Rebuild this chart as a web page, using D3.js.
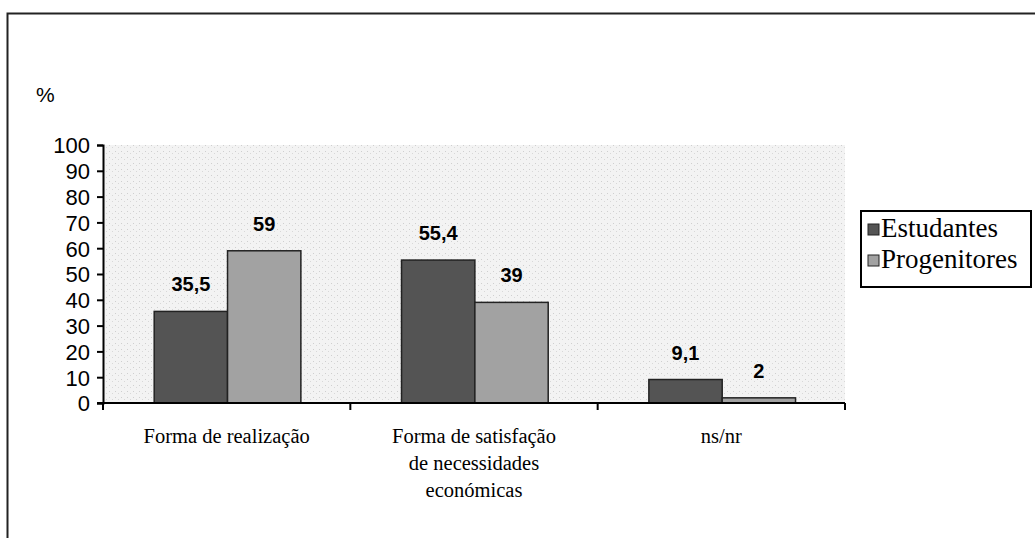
<!DOCTYPE html>
<meta charset="utf-8">
<style>
body { margin: 0; background: #fff; }
svg text { fill: #000; }
.axis-y text { font-family: "Liberation Sans", Arial, sans-serif; font-size: 22px; }
.val { font-family: "Liberation Sans", Arial, sans-serif; font-size: 20px; font-weight: bold; }
.cat { font-family: "Liberation Serif", "Times New Roman", serif; font-size: 20.5px; }
.leg { font-family: "Liberation Serif", "Times New Roman", serif; font-size: 27px; }
</style>
<svg width="1035" height="538"></svg>
<script src="https://cdn.jsdelivr.net/npm/d3@7"></script>
<script>

var categories = [["Forma de realização"], ["Forma de satisfação", "de necessidades", "económicas"], ["ns/nr"]]
var catKeys = ["real", "satis", "nsnr"]
var series = ["Estudantes", "Progenitores"]
var estudantes = [35.5, 55.4, 9.1]
var progenitores = [59, 39, 2]
var labelsEst = ["35,5", "55,4", "9,1"]
var labelsProg = ["59", "39", "2"]
var yTicks = [0, 10, 20, 30, 40, 50, 60, 70, 80, 90, 100]

var colors = { Estudantes: "#545454", Progenitores: "#a2a2a2" }

var svg = d3.select("svg")

// outer frame (only top and left visible)
svg.append("path")
  .attr("d", "M7.5,538 V13.5 H1035")
  .attr("fill", "none")
  .attr("stroke", "#222")
  .attr("stroke-width", 2)

var pLeft = 103, pRight = 845, pTop = 145, pBottom = 403

var x = d3.scaleBand().domain(catKeys).range([pLeft, pRight]).paddingInner(0).paddingOuter(0)
var bw = x.bandwidth()
var inner = d3.scaleBand().domain(series).range([0.207 * bw, 0.8 * bw]).padding(0)
var y = d3.scaleLinear().domain([0, 100]).range([pBottom, pTop])

// light stippled plot background
var defs = svg.append("defs")
var pat = defs.append("pattern").attr("id", "stip").attr("width", 6).attr("height", 6).attr("patternUnits", "userSpaceOnUse")
pat.append("rect").attr("width", 6).attr("height", 6).attr("fill", "#f3f3f3")
pat.append("rect").attr("x", 1).attr("y", 1).attr("width", 1).attr("height", 1).attr("fill", "#cfcfcf")
pat.append("rect").attr("x", 4).attr("y", 3).attr("width", 1).attr("height", 1).attr("fill", "#d8d8d8")

svg.append("rect")
  .attr("x", pLeft).attr("y", pTop)
  .attr("width", pRight - pLeft).attr("height", pBottom - pTop)
  .attr("fill", "url(#stip)")

var rows = catKeys.map(function(k, i){
  return { key: k, Estudantes: estudantes[i], Progenitores: progenitores[i], le: labelsEst[i], lp: labelsProg[i] }
})

var groups = svg.append("g").selectAll("g")
  .data(rows)
  .enter().append("g")
    .attr("transform", function(d){ return "translate(" + x(d.key) + ",0)" })

groups.selectAll("rect")
  .data(function(d){ return series.map(function(s){ return { s: s, v: d[s] } }) })
  .enter().append("rect")
    .attr("x", function(d){ return inner(d.s) })
    .attr("y", function(d){ return y(d.v) })
    .attr("width", inner.bandwidth())
    .attr("height", function(d){ return pBottom - y(d.v) })
    .attr("fill", function(d){ return colors[d.s] })
    .attr("stroke", "#222")
    .attr("stroke-width", 1.5)

groups.selectAll("text.val")
  .data(function(d){ return [{ s: "Estudantes", v: d.Estudantes, t: d.le }, { s: "Progenitores", v: d.Progenitores, t: d.lp }] })
  .enter().append("text")
    .attr("class", "val")
    .attr("x", function(d){ return inner(d.s) + inner.bandwidth() / 2 })
    .attr("y", function(d){ return y(d.v) - 20 })
    .attr("text-anchor", "middle")
    .text(function(d){ return d.t })

// y axis
var yAxis = svg.append("g")
  .attr("class", "axis-y")
  .attr("transform", "translate(" + pLeft + ",0)")
  .call(d3.axisLeft(y).tickValues(yTicks).tickSize(6).tickPadding(7))
yAxis.select(".domain").attr("stroke", "#000").attr("stroke-width", 2)
yAxis.selectAll(".tick line").attr("stroke", "#000").attr("stroke-width", 2)
yAxis.selectAll(".tick text").attr("dy", "0.36em")

// x axis
var xAxis = svg.append("g")
  .attr("transform", "translate(0," + pBottom + ")")
xAxis.append("line")
  .attr("x1", pLeft - 6).attr("x2", pRight)
  .attr("stroke", "#000").attr("stroke-width", 2)
xAxis.selectAll("line.tk")
  .data(catKeys.concat(["end"]))
  .enter().append("line")
    .attr("class", "tk")
    .attr("x1", function(d){ return d === "end" ? pRight : x(d) })
    .attr("x2", function(d){ return d === "end" ? pRight : x(d) })
    .attr("y1", 0).attr("y2", 7)
    .attr("stroke", "#000").attr("stroke-width", 2)

var catText = svg.append("g").selectAll("text")
  .data(catKeys)
  .enter().append("text")
    .attr("class", "cat")
    .attr("text-anchor", "middle")
    .attr("x", function(d){ return x(d) + bw / 2 })
    .attr("y", 443)

catText.each(function(d, i){
  var t = d3.select(this)
  categories[i].forEach(function(line, j){
    t.append("tspan").attr("x", x(d) + bw / 2).attr("dy", j === 0 ? 0 : 27).text(line)
  })
})

// % unit
svg.append("text")
  .attr("x", 36).attr("y", 102)
  .attr("font-family", "Liberation Sans, Arial, sans-serif")
  .attr("font-size", 21)
  .text("%")

// legend
var leg = svg.append("g").attr("transform", "translate(861,211)")
leg.append("rect")
  .attr("x", 0).attr("y", 0).attr("width", 170).attr("height", 76)
  .attr("fill", "#fff").attr("stroke", "#000").attr("stroke-width", 2)
var li = leg.selectAll("g.li")
  .data(series)
  .enter().append("g")
    .attr("class", "li")
    .attr("transform", function(d, i){ return "translate(7," + (21 + i * 31) + ")" })
li.append("rect")
  .attr("x", 0).attr("y", -8).attr("width", 11).attr("height", 11)
  .attr("fill", function(d){ return colors[d] })
  .attr("stroke", "#222")
li.append("text")
  .attr("class", "leg")
  .attr("x", 13).attr("y", 5)
  .text(function(d){ return d })

</script>
